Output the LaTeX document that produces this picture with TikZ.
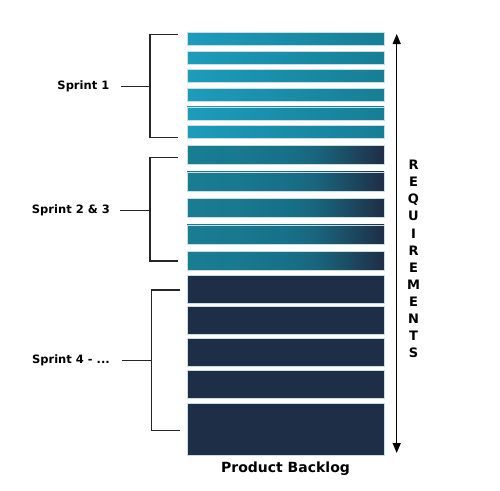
\documentclass[tikz,border=0pt]{standalone}
\usepackage{fontspec}
\setmainfont{DejaVu Sans}
\usetikzlibrary{arrows.meta}
\definecolor{tA}{HTML}{1C9CBB}
\definecolor{tB}{HTML}{167E95}
\definecolor{dk}{HTML}{1F2E47}
\definecolor{edge}{HTML}{C8DDE4}
\pgfdeclarehorizontalshading{midshade}{100bp}{
  rgb(0bp)=(0.098,0.490,0.573);
  rgb(25bp)=(0.098,0.490,0.573);
  rgb(37.5bp)=(0.094,0.475,0.561);
  rgb(50bp)=(0.090,0.440,0.530);
  rgb(57.5bp)=(0.094,0.400,0.490);
  rgb(65bp)=(0.106,0.310,0.400);
  rgb(75bp)=(0.122,0.176,0.271);
  rgb(100bp)=(0.122,0.176,0.271)}
\tikzset{
  bar/.style={rectangle, minimum width=197pt, inner sep=0pt, draw=edge, line width=0.5pt},
  bone/.style={bar, minimum height=13pt, left color=tA, right color=tB},
  btwo/.style={bar, minimum height=19pt, shading=midshade},
  bthree/.style={bar, minimum height=28pt, fill=dk},
  brk/.style={draw=black!85, line width=1.5pt},
  lab/.style={font=\bfseries\fontsize{11.5}{13}\selectfont, anchor=east, inner sep=0pt},
  req/.style={font=\bfseries\fontsize{13}{15}\selectfont, inner sep=0pt}
}
\begin{document}
\begin{tikzpicture}[x=1pt,y=-1pt]
\useasboundingbox (0,0) rectangle (500,490);
% sprint 1 bars
\foreach \i/\y in {1/38.5,2/57.5,3/75.8,4/94.5,5/113.3,6/131.8}{
  \node[bone] (s1b\i) at (285.5,\y) {};
}
% sprint 2&3 bars
\foreach \i/\y in {1/154.8,2/181.3,3/207.8,4/234.3,5/260.7}{
  \node[btwo] (s2b\i) at (285.5,\y) {};
}
% sprint 4 bars
\foreach \i/\y in {1/288.8,2/320.5,3/352.3,4/384.2}{
  \node[bthree] (s4b\i) at (285.5,\y) {};
}
\node[bar, minimum height=52pt, fill=dk] (s4b5) at (285.5,428.8) {};

% brackets
\coordinate (k1t) at (178,34.3);
\coordinate (k1b) at (178,137.7);
\coordinate (k1m) at (150,86.7);
\draw[brk] (k1t) -- (150,34.3) -- (150,137.7) -- (k1b);
\node[lab] (l1) at (109.5,86.7) {Sprint 1};
\draw[brk] ([xshift=11.5pt]l1.east) -- (k1m);

\coordinate (k2t) at (178,157.7);
\coordinate (k2b) at (178,261);
\coordinate (k2m) at (150,210.7);
\draw[brk] (k2t) -- (150,157.7) -- (150,261) -- (k2b);
\node[lab] (l2) at (110,210.7) {Sprint 2 \& 3};
\draw[brk] ([xshift=10pt]l2.east) -- (k2m);

\coordinate (k3t) at (180,290);
\coordinate (k3b) at (180,430.7);
\coordinate (k3m) at (151.7,360.7);
\draw[brk] (k3t) -- (151.7,290) -- (151.7,430.7) -- (k3b);
\node[lab] (l3) at (110,360.7) {Sprint 4 - ...};
\draw[brk] ([xshift=11.5pt]l3.east) -- (k3m);

% requirements arrow
\coordinate (at) at (396.7,34);
\coordinate (ab) at (396.7,453);
\draw[line width=1.3pt, {Triangle[width=8pt,length=10pt]}-{Triangle[width=8pt,length=10pt]}] (at) -- (ab);
\foreach \c [count=\n from 0] in {R,E,Q,U,I,R,E,M,E,N,T,S}{
  \node[req] (r\n) at (413.5,{165+17.1*\n}) {\c};
}
\node[font=\bfseries\fontsize{14}{16}\selectfont, inner sep=0pt] (pb) at (285.5,469) {Product Backlog};
\end{tikzpicture}
\end{document}
